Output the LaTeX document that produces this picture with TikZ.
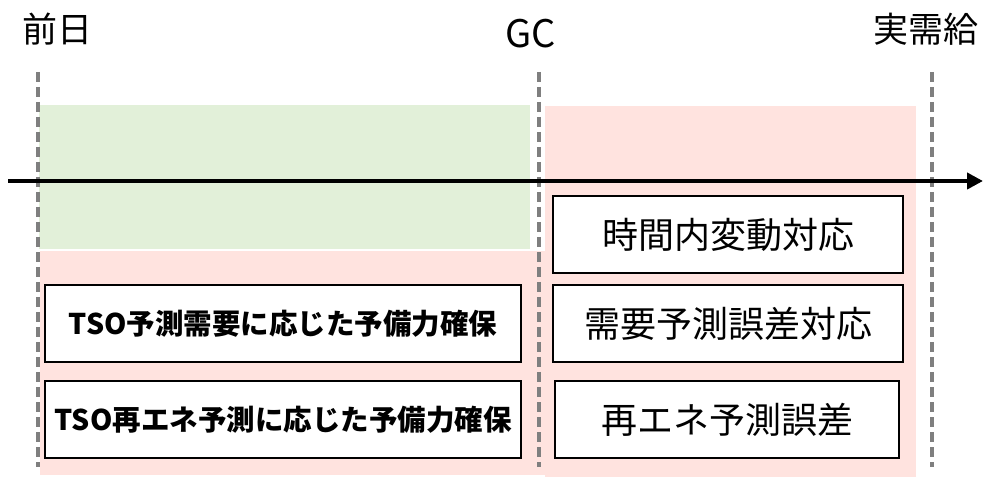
\documentclass[tikz,border=0pt]{standalone}
\usepackage{fontspec}
\setmainfont{Noto Sans CJK JP}
\usetikzlibrary{arrows.meta}
\definecolor{dayahead}{HTML}{E2F0D9}
\definecolor{reserve}{HTML}{FFE3DF}
\definecolor{gateline}{HTML}{7F7F7F}
\tikzset{
    gate/.style={gateline, line width=3.2pt, dash pattern=on 10pt off 5pt},
    taskbox/.style={draw=black, line width=1.2pt, fill=white, minimum height=77pt, inner sep=0pt, font=\fontsize{36}{40}\selectfont},
    tsobox/.style={taskbox, font=\fontsize{28.5}{34}\selectfont\bfseries},
    stamp/.style={anchor=base, font=\fontsize{35}{40}\selectfont}}
\begin{document}
\begin{tikzpicture}[x=1pt,y=1pt,yscale=-1,xscale=1]
            \useasboundingbox (0,0) rectangle (983,478);

            %Areas
            \fill[dayahead] (39,105) rectangle (530,249);% before GC
            \fill[reserve] (40,251) rectangle (546,475);
            \fill[reserve] (545,106) rectangle (916,477);% after GC

            %Gates
            \draw (57,43) node (prev) [stamp] {前日};
            \draw (531,48) node (gc) [stamp, font=\fontsize{38}{40}\selectfont] {GC};
            \draw (926,43) node (real) [stamp] {実需給};
            \coordinate (prevtop) at (38,72);
            \coordinate (prevbot) at (38,467);
            \coordinate (gctop) at (539,72);
            \coordinate (gcbot) at (539,467);
            \coordinate (realtop) at (932,72);
            \coordinate (realbot) at (932,467);
            \draw[gate] (prevtop) -- (prevbot);
            \draw[gate] (gctop) -- (gcbot);
            \draw[gate] (realtop) -- (realbot);

            %Time axis
            \coordinate (start) at (8,181);
            \coordinate (end) at (983,181);
            \draw[line width=4pt, -{Triangle[length=16pt, width=16pt]}] (start) -- (end);

            %TSO boxes
            \draw (283,323.5) node (demand) [tsobox, minimum width=476pt] {TSO予測需要に応じた予備力確保};
            \draw (283,419.5) node (renew) [tsobox, minimum width=476pt] {TSO再エネ予測に応じた予備力確保};

            %After GC
            \draw (728,234.5) node (intra) [taskbox, minimum width=350pt] {時間内変動対応};
            \draw (728,323.5) node (demerr) [taskbox, minimum width=350pt] {需要予測誤差対応};
            \draw (727,419.5) node (renerr) [taskbox, minimum width=344pt] {再エネ予測誤差};
        \end{tikzpicture}
\end{document}
